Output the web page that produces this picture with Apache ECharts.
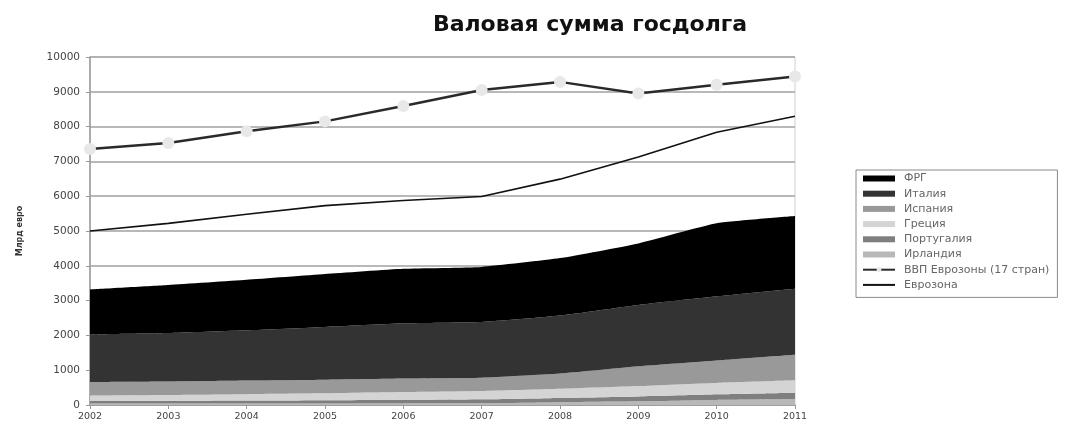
<!DOCTYPE html>
<html>
<head>
<meta charset="utf-8">
<script src="https://cdn.jsdelivr.net/npm/echarts@6/dist/echarts.min.js"></script>
<style>
html,body{margin:0;padding:0;background:#fff;}
#chart{width:1074px;height:423px;}
</style>
</head>
<body>
<div id="chart"></div>
<script>
const years = ['2002','2003','2004','2005','2006','2007','2008','2009','2010','2011'];
const ireland  = [42, 43, 44, 44, 44, 47, 80, 105, 144, 169];
const portugal = [74, 79, 85, 96, 102, 115, 123, 141, 162, 185];
const greece   = [159, 168, 183, 195, 224, 239, 263, 299, 329, 355];
const spain    = [384, 383, 389, 393, 392, 383, 437, 566, 644, 735];
const italy    = [1368, 1394, 1445, 1514, 1584, 1602, 1666, 1763, 1843, 1897];
const germany  = [1293, 1381, 1451, 1521, 1569, 1583, 1652, 1770, 2100, 2088];
const gdp      = [7355, 7530, 7865, 8150, 8590, 9050, 9285, 8950, 9200, 9440];
const eurozone = [5000, 5220, 5480, 5730, 5875, 5990, 6490, 7125, 7840, 8300];

const FONT = 'DejaVu Sans';
function area(name, data, color) {
  return {
    name, type: 'line', stack: 'debt', data,
    symbol: 'none', smooth: 0.15,
    lineStyle: { width: 0, color },
    itemStyle: { color },
    areaStyle: { color, opacity: 1 },
    z: 2
  };
}
const chart = echarts.init(document.getElementById('chart'));
chart.setOption({
  backgroundColor: '#fff',
  animation: false,
  title: {
    text: 'Валовая сумма госдолга',
    left: 585, top: 9, textAlign: 'center',
    textStyle: { fontFamily: FONT, fontSize: 22, fontWeight: 'bold', color: '#111' }
  },
  grid: {
    left: 90, right: 279, top: 57, bottom: 18,
    show: true, borderColor: '#d0d0d0', borderWidth: 1
  },
  legend: {
    orient: 'vertical', left: 856, top: 170,
    itemWidth: 32, itemHeight: 6, itemGap: 4.2,
    padding: [3, 8, 7, 6],
    borderColor: '#8a8a8a', borderWidth: 1,
    textStyle: { fontFamily: FONT, fontSize: 11, color: '#666', padding: [0, 0, 0, 4] },
    data: [
      { name: 'ФРГ', icon: 'rect' },
      { name: 'Италия', icon: 'rect' },
      { name: 'Испания', icon: 'rect' },
      { name: 'Греция', icon: 'rect' },
      { name: 'Португалия', icon: 'rect' },
      { name: 'Ирландия', icon: 'rect' },
      { name: 'ВВП Еврозоны (17 стран)' },
      { name: 'Еврозона' }
    ]
  },
  xAxis: {
    type: 'category', data: years, boundaryGap: false,
    axisLine: { lineStyle: { color: '#999', width: 1.5 } },
    axisTick: { show: true, alignWithLabel: true, length: 4, lineStyle: { color: '#999' } },
    axisLabel: { fontFamily: FONT, fontSize: 9.5, color: '#444', margin: 7 },
    splitLine: { show: false }
  },
  yAxis: {
    type: 'value', min: 0, max: 10000, interval: 1000,
    name: 'Млрд евро', nameLocation: 'middle', nameRotate: 90, nameGap: 66,
    nameTextStyle: { fontFamily: FONT, fontSize: 8, fontWeight: 'bold', color: '#333' },
    axisLine: { show: true, lineStyle: { color: '#999', width: 1.5 } },
    axisTick: { show: true, length: 4, lineStyle: { color: '#999' } },
    axisLabel: { fontFamily: FONT, fontSize: 10.5, color: '#444', margin: 10, formatter: v => String(v) },
    splitLine: { lineStyle: { color: '#a0a0a0', width: 1.5 } }
  },
  series: [
    area('Ирландия', ireland, '#b8b8b8'),
    area('Португалия', portugal, '#7f7f7f'),
    area('Греция', greece, '#d4d4d4'),
    area('Испания', spain, '#999999'),
    area('Италия', italy, '#333333'),
    area('ФРГ', germany, '#000000'),
    {
      name: 'ВВП Еврозоны (17 стран)', type: 'line', data: gdp,
      symbol: 'circle', symbolSize: 12,
      itemStyle: { color: '#e8e8e8', borderWidth: 0 },
      lineStyle: { color: '#2a2a2a', width: 2.5 },
      z: 5
    },
    {
      name: 'Еврозона', type: 'line', data: eurozone,
      symbol: 'none',
      itemStyle: { color: 'rgba(0,0,0,0)' },
      lineStyle: { color: '#111', width: 1.6 },
      z: 5
    }
  ]
});
</script>
</body>
</html>
